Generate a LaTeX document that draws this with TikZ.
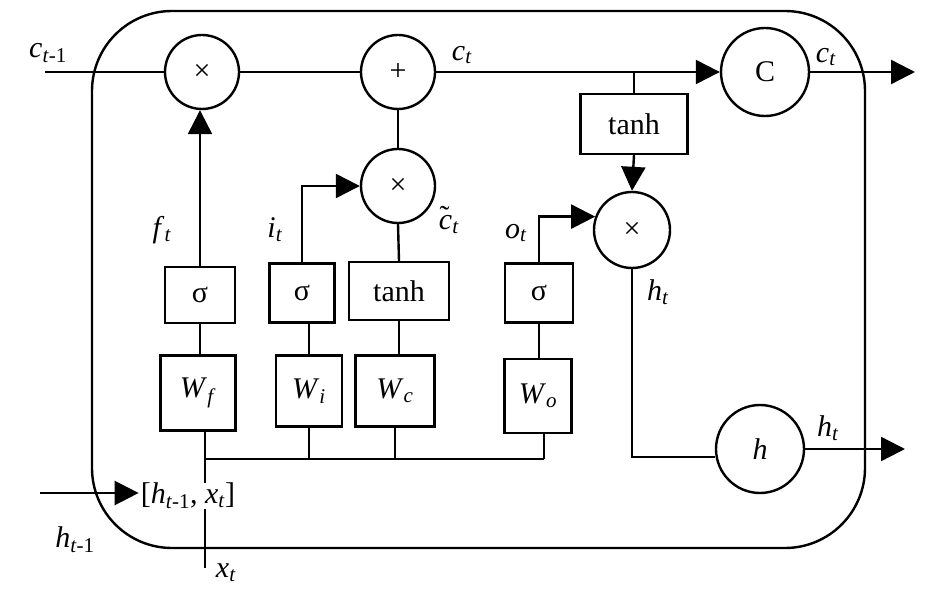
\documentclass[tikz,border=0pt]{standalone}
\usepackage{fontspec}
\setmainfont{Liberation Serif}
\usetikzlibrary{arrows.meta,calc}
\newcommand{\myvar}[2]{\textit{#1}\textsubscript{#2}}
\newcommand{\tildec}{\makebox[0pt][l]{\hspace{0.02em}\raisebox{0.12em}{\char"02DC}}\textit{c}}
\begin{document}
\begin{tikzpicture}[x=1pt,y=-1pt, line width=2.4pt,
  font=\fontsize{30}{33}\selectfont,
  op/.style={circle,draw,minimum size=74pt,inner sep=0pt},
  opsym/.style={font=\fontsize{30}{32}\selectfont},
  box/.style={rectangle,draw,inner sep=0pt},
  arr/.style={-{Triangle[length=24pt,width=24pt]}},
  lbl/.style={inner sep=0pt}]
\useasboundingbox (0,0) rectangle (945,609);
% cell outline
\draw[rounded corners=80pt] (92,11) rectangle (865,548);

% operation circles
\node[op,opsym] (fx) at (202,72) {×};
\node[op,opsym] (plus) at (398,72) {+};
\node[op,opsym] (ix) at (398,186) {×};
\node[op,minimum size=88pt] (C) at (765,72) {C};
\node[op,opsym,minimum size=76pt] (ox) at (632,230) {×};
\node[op,minimum size=88pt] (hc) at (760,449) {\textit{h}};

% boxes
\node[box,minimum width=107pt,minimum height=60pt] (tc) at (634,124) {tanh};
\node[box,minimum width=70pt,minimum height=56pt] (sf) at (200,295) {σ};
\node[box,minimum width=65pt,minimum height=59pt] (si) at (302,293) {σ};
\node[box,minimum width=100pt,minimum height=58pt] (tm) at (399,291) {tanh};
\node[box,minimum width=68pt,minimum height=59pt] (so) at (539,293) {σ};
\node[box,minimum width=75pt,minimum height=75pt] (Wf) at (198,393) {\myvar{W}{\textit{f}}};
\node[box,minimum width=66pt,minimum height=71pt] (Wi) at (309,391) {\myvar{W}{\textit{i}}};
\node[box,minimum width=79pt,minimum height=71pt] (Wc) at (395,391) {\myvar{W}{\textit{c}}};
\node[box,minimum width=67pt,minimum height=74pt] (Wo) at (538,396) {\myvar{W}{\textit{o}}};

% free ends
\coordinate (cin) at (45,72);
\coordinate (cout) at (915,72);
\coordinate (hout) at (905,449);
\coordinate (hin) at (40,493);
\coordinate (busL) at (205,459);
\coordinate (busR) at (544,459);
\coordinate (xin) at (205,568);

% cell state line
\draw (cin) -- (fx.west);
\draw (fx.east) -- (plus.west);
\draw[arr] (plus.east) -- (C.west);
\draw[arr] (C.east) -- (cout);
\draw (plus.south) -- (ix.north);
\draw (tc.north) -- (tc.north |- plus);
\draw[arr] (tc.south) -- (ox.north);

% gates
\draw[arr] (sf.north) -- (sf.north |- fx.south);
\draw[arr] (si.north) |- (ix.west);
\draw (tm.north) -- (ix.south);
\draw[arr] (so.north) |- (ox.160);
\draw (ox.south) |- (hc.190);
\draw[arr] (hc.east) -- (hout);

% box links
\draw (sf.south) -- (sf.south |- Wf.north);
\draw (si.south -| Wi) -- (Wi.north);
\draw (tm.south) -- (tm.south |- Wc.north);
\draw (so.south) -- (so.south |- Wo.north);

% input bus
\draw (busL) -- (busR);
\draw (Wi.south) -- (Wi.south |- busL);
\draw (Wc.south) -- (Wc.south |- busL);
\draw (Wo.south -| busR) -- (busR);
\draw (Wf.south -| busL) -- (xin);
\node[lbl,fill=white,inner xsep=1pt] (cat) at (188,496) {[\myvar{h}{\textit{t}-1}, \myvar{x}{\textit{t}}]};
\draw[arr] (hin) -- (hin -| cat.west);

% labels
\node[lbl] (l1) at (48,53) {\myvar{c}{\textit{t}-1}};
\node[lbl] (l2) at (462,55) {\myvar{c}{\textit{t}}};
\node[lbl] (l3) at (826,57) {\myvar{c}{\textit{t}}};
\node[lbl] (l4) at (162,230) {\myvar{f}{\textit{t}}};
\node[lbl] (l5) at (275,230) {\myvar{i}{\textit{t}}};
\node[lbl] (l6) at (449,220) {\tildec\textsubscript{\textit{t}}};
\node[lbl] (l7) at (516,233) {\myvar{o}{\textit{t}}};
\node[lbl] (l8) at (658,292) {\myvar{h}{\textit{t}}};
\node[lbl] (l9) at (828,428) {\myvar{h}{\textit{t}}};
\node[lbl] (l10) at (226,573) {\myvar{x}{\textit{t}}};
\node[lbl] (l11) at (75,540) {\myvar{h}{\textit{t}-1}};
\end{tikzpicture}
\end{document}
